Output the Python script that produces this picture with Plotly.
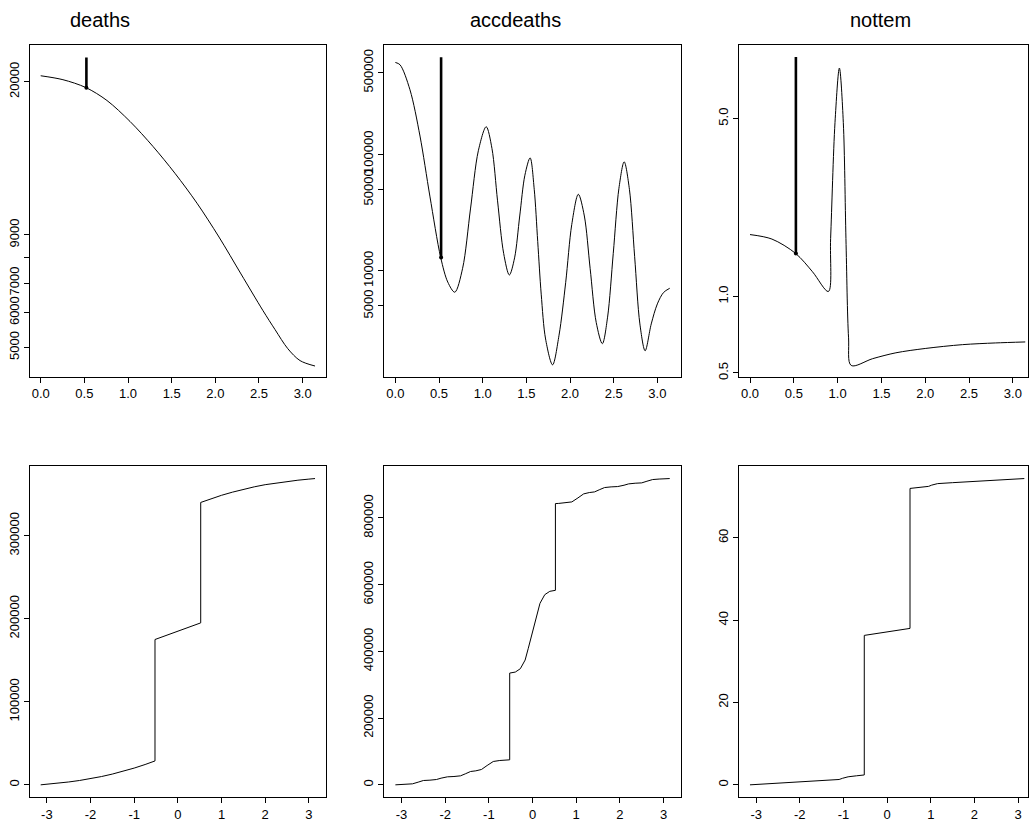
import math
import plotly.graph_objects as go

W, H = 1029, 826
PI = math.pi
F = PI / 6  # seasonal frequency marker

# ---------------- top row: spectra (log scale) ----------------
deaths_x = [0, 0.255, 0.519, 0.759, 1.023, 1.286, 1.538, 1.79, 2.042, 2.294, 2.546,
            2.684, 2.83, 2.97, 3.1416]
deaths_spec = [20650, 20230, 19410, 18150, 16270, 14280, 12410, 10620, 8900, 7340,
               6060, 5490, 4970, 4670, 4540]
deaths_bar = [19400, 22700]

acc_x = [0, 0.053, 0.167, 0.282, 0.395, 0.519, 0.60, 0.68, 0.77, 0.86, 0.95, 1.04,
         1.106, 1.17, 1.24, 1.305, 1.365, 1.424, 1.483, 1.543, 1.59, 1.63, 1.67, 1.72,
         1.80, 1.874, 1.95, 2.02, 2.095, 2.164, 2.23, 2.30, 2.37, 2.43, 2.495, 2.56,
         2.62, 2.68, 2.74, 2.80, 2.86, 2.93, 3.0, 3.07, 3.1416]
acc_spec = [612000, 585000, 357000, 143000, 43700, 13000, 8000, 6550, 10500, 33900,
            107000, 172000, 112000, 39800, 14100, 9200, 12900, 29500, 66000, 93000,
            50000, 17800, 6300, 2600, 1560, 2800, 7900, 25000, 45300, 29500, 10500,
            3600, 2370, 4000, 14100, 51000, 86000, 50000, 13200, 3500, 2060, 3500, 5200,
            6500, 7080]
acc_bar = [13000, 680000]

not_x = [0, 0.25, 0.52, 0.713, 0.894, 0.92, 0.97, 1.02, 1.065, 1.095, 1.125, 1.155,
         1.4, 1.665, 2.0, 2.425, 2.8, 3.1416]
not_spec = [1.75, 1.68, 1.476, 1.25, 1.045, 1.687, 4.82, 7.9, 4.82, 1.687, 0.687, 0.535,
            0.569, 0.6, 0.624, 0.646, 0.656, 0.662]
not_bar = [1.476, 8.73]

# ---------------- bottom row: cumulative periodograms ----------------
cdeaths_x = [-3.1416, -3.0, -2.75, -2.5, -2.25, -2.0, -1.75, -1.5, -1.25, -1.0, -0.75,
             -0.5236, -0.5236, 0, 0.5236, 0.5236, 0.75, 1.0, 1.25, 1.5, 1.75, 2.0, 2.25,
             2.5, 2.75, 3.0, 3.1416]
cdeaths_y = [0, 660, 1950, 3460, 5260, 7420, 9980, 12970, 16370, 20180, 24460,
             28780, 175000, 185000, 195000, 340000, 344300, 348600, 352400, 355800,
             358800, 361400, 363500, 365300, 366800, 368100, 368780]

cacc_x = [-3.1416, -2.9, -2.75, -2.62, -2.5, -2.35, -2.2, -2.095, -1.95, -1.8, -1.65,
          -1.54, -1.42, -1.3, -1.17, -1.04, -0.9, -0.75, -0.6, -0.5236, -0.5236, -0.395,
          -0.28, -0.17, -0.1, 0, 0.1, 0.17, 0.28, 0.395, 0.5236, 0.5236, 0.6, 0.75, 0.9,
          1.04, 1.17, 1.3, 1.42, 1.54, 1.65, 1.8, 1.95, 2.095, 2.2, 2.35, 2.5, 2.62, 2.75,
          2.9, 3.1416]
cacc_y = [0, 1500, 3000, 8000, 13000, 14000, 16000, 20000, 24000, 25000, 27000, 33000,
          40000, 42000, 46000, 58000, 70000, 73000, 74500, 75000, 335000, 338000, 348000,
          374000, 408000, 459000, 510000, 544000, 570000, 580000, 583000, 843000, 843500,
          845000, 848000, 860000, 872000, 876000, 878000, 885000, 891000, 893000, 894000,
          898000, 902000, 904000, 905000, 910000, 915000, 916500, 918000]

cnot_x = [-3.1416, -2.5, -2.0, -1.5, -1.155, -1.1, -1.02, -0.95, -0.894, -0.7, -0.5236,
          -0.5236, 0, 0.5236, 0.5236, 0.7, 0.894, 0.95, 1.02, 1.1, 1.155, 1.5, 2.0, 2.5,
          3.1416]
cnot_y = [0, 0.4, 0.7, 1.0, 1.23, 1.3, 1.6, 1.9, 1.95, 2.2, 2.4, 36.3, 37.15, 38.0,
          72.0, 72.2, 72.45, 72.5, 72.8, 73.1, 73.17, 73.4, 73.7, 74.0, 74.4]

titles = ["deaths", "accdeaths", "nottem"]
title_px = [100, 515, 880]

# ---------------- layout geometry (pixels) ----------------
cols = [(29.7, 326.0), (384.4, 680.7), (739.0, 1028.0)]
rows = [(45.0, 378.0), (468.0, 800.0)]

def dx(l, r):
    return [l / W, r / W]

def dy(t, b):
    return [1 - b / H, 1 - t / H]

FONT = "Liberation Sans, Arial, sans-serif"
fig = go.Figure()

barline = dict(color="black", width=2.6)

top_data = [(deaths_x, deaths_spec, deaths_bar),
            (acc_x, acc_spec, acc_bar),
            (not_x, not_spec, not_bar)]
bot_data = [(cdeaths_x, cdeaths_y), (cacc_x, cacc_y), (cnot_x, cnot_y)]

for i, (xs, ys, bar) in enumerate(top_data):
    ax = "" if i == 0 else str(i + 1)
    fig.add_trace(go.Scatter(x=xs, y=ys, mode="lines",
                             line=dict(color="black", width=1, shape="spline", smoothing=0.9),
                             xaxis="x" + ax, yaxis="y" + ax, showlegend=False))
    fig.add_trace(go.Scatter(x=[F, F], y=bar, mode="lines", line=barline,
                             xaxis="x" + ax, yaxis="y" + ax, showlegend=False))
    fig.add_trace(go.Scatter(x=[F], y=[bar[0]], mode="markers",
                             marker=dict(color="black", size=4),
                             xaxis="x" + ax, yaxis="y" + ax, showlegend=False))

for i, (xs, ys) in enumerate(bot_data):
    ax = str(i + 4)
    fig.add_trace(go.Scatter(x=xs, y=ys, mode="lines", line=dict(color="black", width=1),
                             xaxis="x" + ax, yaxis="y" + ax, showlegend=False))

axis_common = dict(showline=True, mirror=True, linecolor="black", linewidth=1,
                   ticks="outside", ticklen=5, tickcolor="black", showgrid=False,
                   zeroline=False, tickfont=dict(family=FONT, size=13, color="black"))

top_xranges = [[-0.1257, 3.2673], [-0.1257, 3.2673], [-0.1257, 3.173]]
top_yranges = [[3.633, 4.385], [3.092, 5.938], [-0.3155, 0.989]]
top_yticks = [([5000, 6000, 7000, 8000, 9000, 20000], ["5000", "6000", "7000", "", "9000", "20000"]),
              ([5000, 10000, 50000, 100000, 500000], ["5000", "10000", "50000", "100000", "500000"]),
              ([0.5, 1.0, 5.0], ["0.5", "1.0", "5.0"])]
top_xtv = [0, 0.5, 1.0, 1.5, 2.0, 2.5, 3.0]
top_xtt = ["0.0", "0.5", "1.0", "1.5", "2.0", "2.5", "3.0"]

bot_xranges = [[-3.393, 3.393], [-3.393, 3.393], [-3.393, 3.226]]
bot_yranges = [[-14751, 383531], [-36720, 954720], [-2.976, 77.376]]
bot_yticks = [[0, 100000, 200000, 300000],
              [0, 200000, 400000, 600000, 800000],
              [0, 20, 40, 60]]
bot_xtv = [-3, -2, -1, 0, 1, 2, 3]

layout = dict(width=W, height=H, margin=dict(l=0, r=0, t=0, b=0),
              paper_bgcolor="white", plot_bgcolor="white", showlegend=False)

for i in range(3):
    n = i + 1
    k = "" if n == 1 else str(n)
    layout["xaxis" + k] = dict(axis_common, domain=dx(*cols[i]), range=top_xranges[i],
                               tickvals=top_xtv, ticktext=top_xtt, anchor="y" + k)
    tv, tt = top_yticks[i]
    layout["yaxis" + k] = dict(axis_common, domain=dy(*rows[0]), type="log",
                               range=top_yranges[i], tickvals=tv, ticktext=tt,
                               tickangle=-90, anchor="x" + k)
for i in range(3):
    k = str(i + 4)
    layout["xaxis" + k] = dict(axis_common, domain=dx(*cols[i]), range=bot_xranges[i],
                               tickvals=bot_xtv, ticktext=[str(v) for v in bot_xtv],
                               anchor="y" + k)
    layout["yaxis" + k] = dict(axis_common, domain=dy(*rows[1]), range=bot_yranges[i],
                               tickvals=bot_yticks[i],
                               ticktext=[str(v) for v in bot_yticks[i]],
                               tickangle=-90, anchor="x" + k)

fig.update_layout(**layout)

for t, px in zip(titles, title_px):
    fig.add_annotation(text=t, x=px / W, y=1 - 20 / H, xref="paper", yref="paper",
                       showarrow=False, xanchor="center", yanchor="middle",
                       font=dict(family=FONT, size=20, color="black"))

fig.write_html("out.html")
